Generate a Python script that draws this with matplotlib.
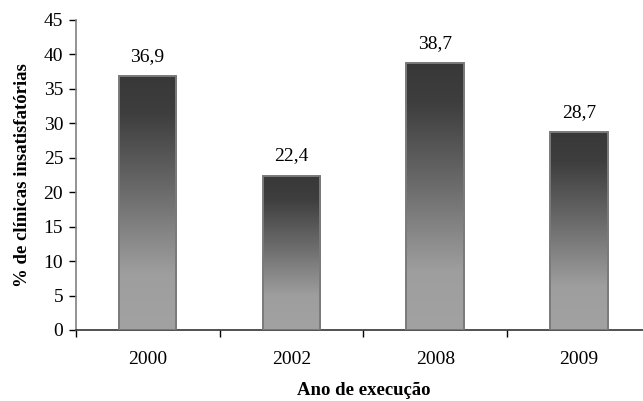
import matplotlib
matplotlib.use("Agg")
import matplotlib.pyplot as plt
import numpy as np
from matplotlib.colors import LinearSegmentedColormap

plt.rcParams['font.family'] = ['Liberation Serif', 'DejaVu Serif']

anos = ['2000', '2002', '2008', '2009']
percentuais = [36.9, 22.4, 38.7, 28.7]
rotulos = ['36,9', '22,4', '38,7', '28,7']

# degradê escuro no topo, claro embaixo
cmap = LinearSegmentedColormap.from_list('barra', [
    (0.0, '#a2a2a2'), (0.22, '#9e9e9e'), (0.55, '#6a6a6a'),
    (0.85, '#3e3e3e'), (1.0, '#383838')])

fig = plt.figure(figsize=(6.43, 4.01), dpi=100)
ax = fig.add_axes([75.7 / 643, 71 / 401, (651 - 75.7) / 643, 310 / 401])

x = np.arange(len(anos))
barras = ax.bar(x, percentuais, width=0.4, facecolor='none',
                edgecolor='#7a7a7a', linewidth=1.4, zorder=3)

grad = np.linspace(0, 1, 256).reshape(-1, 1)
for b in barras:
    x0, w, h = b.get_x(), b.get_width(), b.get_height()
    im = ax.imshow(grad, cmap=cmap, origin='lower', aspect='auto',
                   extent=[x0, x0 + w, 0, h], zorder=2)
    im.set_clip_path(b)

for xi, v, r in zip(x, percentuais, rotulos):
    ax.annotate(r, (xi, v), xytext=(0, 8), textcoords='offset points',
                ha='center', va='bottom', fontsize=14)

ax.set_xlim(-0.5, len(anos) - 0.5)
ax.set_ylim(0, 45)
ax.set_yticks(range(0, 50, 5))
ax.set_xticks(x)
ax.set_xticklabels(anos, fontsize=14)
ax.set_xticks(np.arange(-0.5, len(anos), 1.0), minor=True)
ax.tick_params(axis='x', which='major', length=0, pad=15)
ax.tick_params(axis='x', which='minor', length=5, width=1, direction='out')
ax.tick_params(axis='y', labelsize=14, length=5, width=1, direction='out', pad=4)

for s in ['top', 'right']:
    ax.spines[s].set_visible(False)
ax.spines['left'].set_color('#808080')
ax.spines['left'].set_linewidth(1.2)
ax.spines['bottom'].set_color('#333333')
ax.spines['bottom'].set_linewidth(1.2)

ax.set_ylabel('% de clínicas insatisfatórias', fontsize=13.5, fontweight='bold', labelpad=9)
ax.set_xlabel('Ano de execução', fontsize=13.5, fontweight='bold', labelpad=10)

fig.savefig('out.png', dpi=100)
